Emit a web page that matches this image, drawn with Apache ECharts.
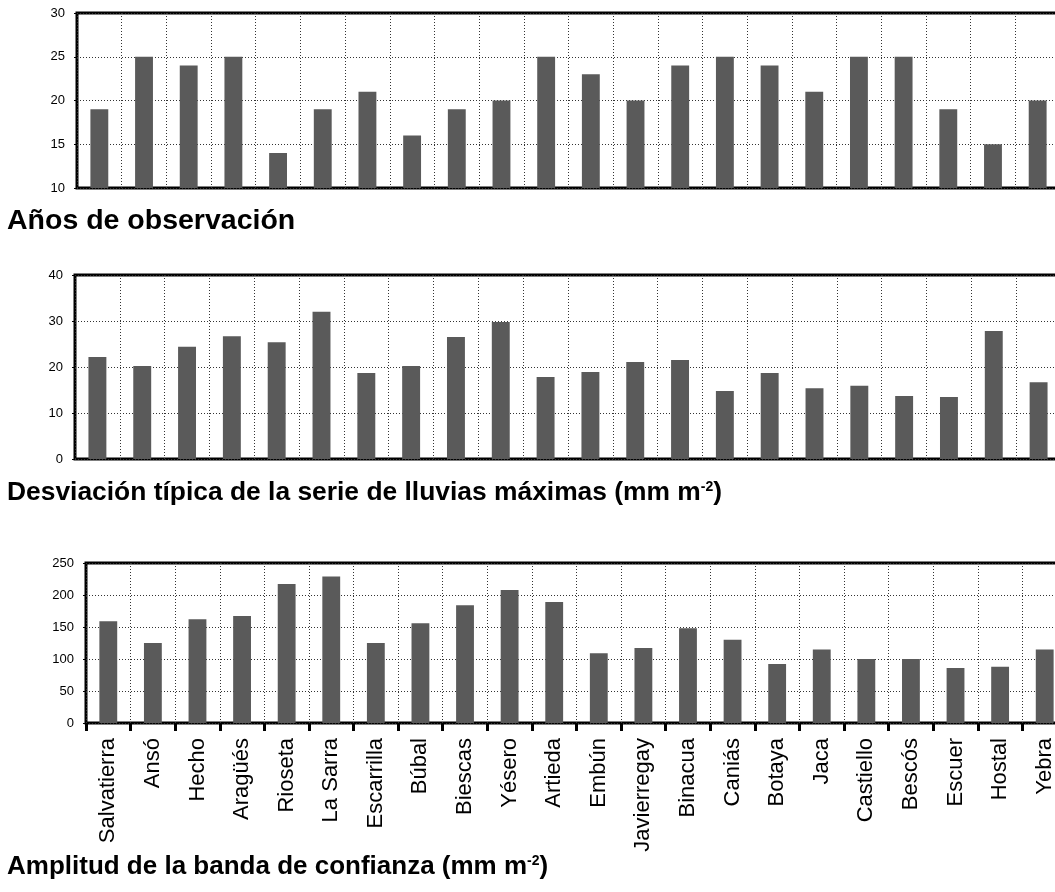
<!DOCTYPE html>
<html>
<head>
<meta charset="utf-8">
<script src="https://cdn.jsdelivr.net/npm/echarts@6/dist/echarts.min.js"></script>
<style>
html,body{margin:0;padding:0;background:#fff;overflow:hidden;width:1055px;height:892px;}
#c{width:1075px;height:892px;}
</style>
</head>
<body>
<div id="c"></div>
<script>
const categories = ['Salvatierra','Ansó','Hecho','Aragüés','Rioseta','La Sarra','Escarrilla','Búbal','Biescas','Yésero','Artieda','Embún','Javierregay','Binacua','Caniás','Botaya','Jaca','Castiello','Bescós','Escuer','Hostal','Yebra'];
const aniosObservacion = [19,25,24,25,14,19,21,16,19,20,25,23,20,24,25,24,21,25,25,19,15,20];
const desviacionTipica = [22.2,20.2,24.4,26.7,25.4,32.0,18.7,20.2,26.5,29.8,17.8,18.9,21.1,21.5,14.8,18.7,15.4,15.9,13.7,13.5,27.8,16.7];
const amplitudBanda = [159,125,162,167,217,229,125,156,184,208,189,109,117,148,130,92,115,100,100,86,88,115];
const titles = ['Años de observación','Desviación típica de la serie de lluvias máximas (mm m{sup|-2})','Amplitud de la banda de confianza (mm m{sup|-2})'];

const FONT = '"Liberation Sans", Arial, sans-serif';
const barColor = '#5a5a5a';
const dotted = {color:'#333', width:1, type:[1,2]};

function yAxis(idx, min, max, interval){
  return {
    type:'value', gridIndex:idx, min:min, max:max, interval:interval,
    axisLine:{show:false},
    axisTick:{show:true, length:3, lineStyle:{color:'#000'}},
    axisLabel:{color:'#000', fontSize:13, fontFamily:FONT, margin:12},
    splitLine:{show:true, lineStyle:dotted}
  };
}
function xAxis(idx, withLabels){
  return {
    type:'category', gridIndex:idx, data:categories,
    axisLine:{show:false},
    axisTick:{show:withLabels, length:8, lineStyle:{color:'#000', width:3}},
    axisLabel:{show:withLabels, rotate:90, interval:0, color:'#000', fontSize:22, fontFamily:FONT, margin:15},
    splitLine:{show:true, interval:0, lineStyle:dotted}
  };
}
function gridBox(left, top, height, width){
  return {left:left, top:top, height:height, width:width, show:true, borderColor:'#000', borderWidth:3, backgroundColor:'transparent', containLabel:false};
}
function bars(idx, data){
  return {type:'bar', xAxisIndex:idx, yAxisIndex:idx, data:data, barWidth:'40%', itemStyle:{color:barColor}, silent:true, animation:false};
}
const titleStyle = (size)=>({
  fontFamily:FONT, fontWeight:'bold', fontSize:size, color:'#000',
  rich:{sup:{fontFamily:FONT, fontWeight:'bold', fontSize:14, verticalAlign:'top', padding:[0,0,8,0], color:'#000'}}
});

const chart = echarts.init(document.getElementById('c'), null, {renderer:'canvas'});
chart.setOption({
  animation:false,
  backgroundColor:'#fff',
  title:[
    {text:titles[0], left:2, top:202, textStyle:titleStyle(28.5)},
    {text:titles[1], left:2, top:475, textStyle:titleStyle(26.4)},
    {text:titles[2], left:2, top:849, textStyle:titleStyle(26)}
  ],
  grid:[
    gridBox(77, 13, 175, 983),
    gridBox(75, 275, 184, 986),
    gridBox(86, 563, 160, 981)
  ],
  xAxis:[xAxis(0,false), xAxis(1,false), xAxis(2,true)],
  yAxis:[yAxis(0,10,30,5), yAxis(1,0,40,10), yAxis(2,0,250,50)],
  series:[bars(0,aniosObservacion), bars(1,desviacionTipica), bars(2,amplitudBanda)]
});
</script>
</body>
</html>
